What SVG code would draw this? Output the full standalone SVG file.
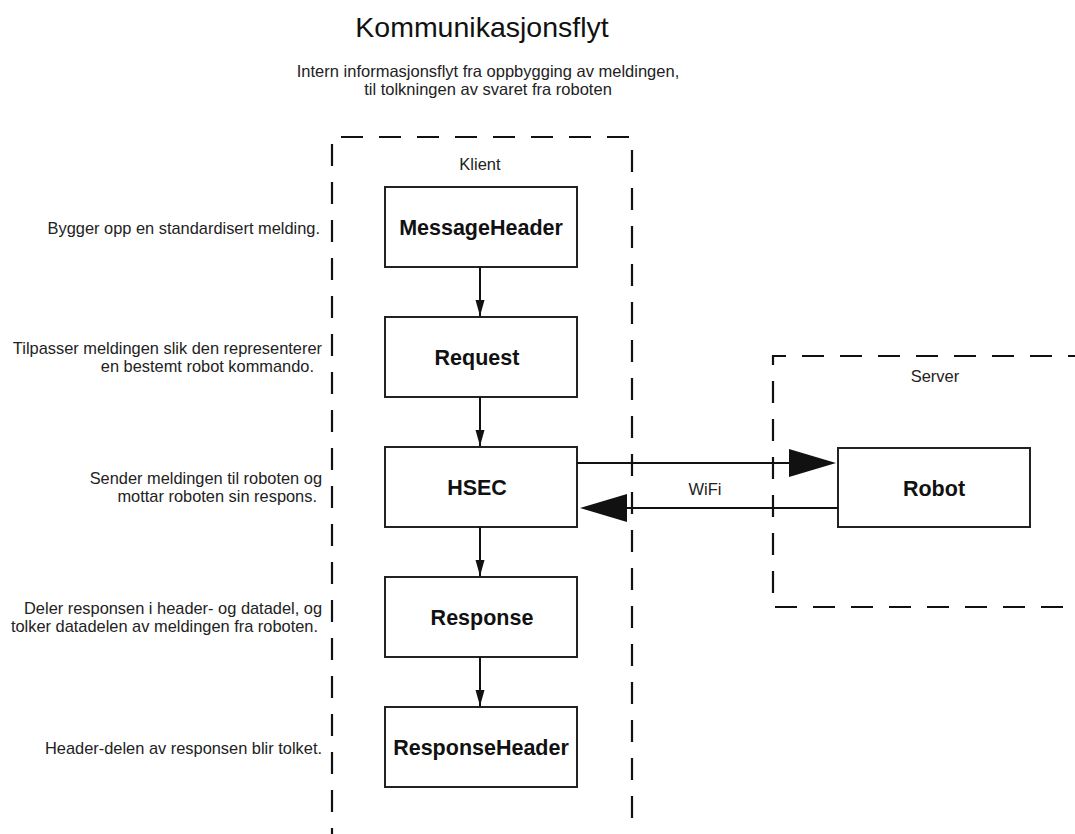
<svg xmlns="http://www.w3.org/2000/svg" width="1075" height="834" viewBox="0 0 1075 834">
  <style>
    .frame { fill: none; stroke: #111; stroke-width: 2.2; stroke-dasharray: 22 16; }
    .box { fill: #fff; stroke: #222; stroke-width: 2; }
    .name { font-family: "Liberation Sans", Arial, sans-serif; font-weight: bold; font-size: 21.5px; fill: #111; text-anchor: middle; }
    .note { font-family: "Liberation Sans", Arial, sans-serif; font-size: 16.4px; fill: #222; text-anchor: end; }
    .label { font-family: "Liberation Sans", Arial, sans-serif; font-size: 16.5px; fill: #222; text-anchor: middle; }
    .flow { stroke: #111; stroke-width: 2; fill: none; }
  </style>
  <defs>
    <marker id="small" viewBox="0 0 16 10" refX="16" refY="5" markerWidth="8" markerHeight="5" markerUnits="strokeWidth" orient="auto">
      <path d="M0,0.5 L16,5 L0,9.5 Z" fill="#111"/>
    </marker>
  </defs>
  <rect width="1075" height="834" fill="#fff"/>

  <!-- headings -->
  <text x="482" y="37" font-family="Liberation Sans, Arial, sans-serif" font-size="28.5" fill="#111" text-anchor="middle">Kommunikasjonsflyt</text>
  <text x="488" y="77" class="label">Intern informasjonsflyt fra oppbygging av meldingen,</text>
  <text x="488" y="95" class="label">til tolkningen av svaret fra roboten</text>

  <!-- containers -->
  <g id="klient">
    <path class="frame" d="M332,850 L332,137 L632,137 L632,850"/>
    <text x="480" y="170" class="label">Klient</text>
  </g>
  <g id="server">
    <path class="frame" d="M1090,356 L773,356 L773,607 L1090,607"/>
    <text x="935" y="382" class="label">Server</text>
  </g>

  <!-- side notes -->
  <g id="notes">
    <text x="320" y="234" class="note">Bygger opp en standardisert melding.</text>
    <text x="322" y="354" class="note">Tilpasser meldingen slik den representerer</text>
    <text x="314" y="372" class="note">en bestemt robot kommando.</text>
    <text x="322" y="484" class="note">Sender meldingen til roboten og</text>
    <text x="317" y="502" class="note">mottar roboten sin respons.</text>
    <text x="322" y="614" class="note">Deler responsen i header- og datadel, og</text>
    <text x="318" y="632" class="note">tolker datadelen av meldingen fra roboten.</text>
    <text x="322" y="754" class="note">Header-delen av responsen blir tolket.</text>
  </g>

  <!-- nodes -->
  <g id="messageheader">
    <rect class="box" x="385" y="187" width="192" height="80"/>
    <text x="481" y="235" class="name">MessageHeader</text>
  </g>
  <g id="request">
    <rect class="box" x="385" y="317" width="192" height="80"/>
    <text x="477" y="365" class="name">Request</text>
  </g>
  <g id="hsec">
    <rect class="box" x="385" y="447" width="192" height="80"/>
    <text x="477" y="495" class="name">HSEC</text>
  </g>
  <g id="response">
    <rect class="box" x="385" y="577" width="192" height="80"/>
    <text x="482" y="625" class="name">Response</text>
  </g>
  <g id="responseheader">
    <rect class="box" x="385" y="707" width="192" height="80"/>
    <text x="481" y="755" class="name">ResponseHeader</text>
  </g>
  <g id="robot">
    <rect class="box" x="838" y="448" width="192" height="79"/>
    <text x="934" y="496" class="name">Robot</text>
  </g>

  <!-- connectors -->
  <g id="connectors">
    <line class="flow" x1="480" y1="267" x2="480" y2="316" marker-end="url(#small)"/>
    <line class="flow" x1="480" y1="397" x2="480" y2="446" marker-end="url(#small)"/>
    <line class="flow" x1="480" y1="527" x2="480" y2="576" marker-end="url(#small)"/>
    <line class="flow" x1="480" y1="657" x2="480" y2="706" marker-end="url(#small)"/>
    <line class="flow" x1="577" y1="463" x2="792" y2="463"/>
    <path d="M789,449 L836,463 L789,477 Z" fill="#111"/>
    <line class="flow" x1="838" y1="508" x2="625" y2="508"/>
    <path d="M627,494 L580,508 L627,522 Z" fill="#111"/>
    <text x="705" y="495" class="label">WiFi</text>
  </g>
</svg>
